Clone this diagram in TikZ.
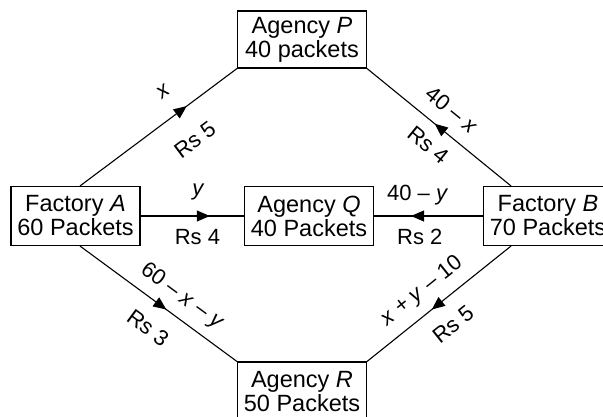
\documentclass[tikz,border=0pt]{standalone}
\usepackage{fontspec}
\setmainfont{Liberation Sans}
\usetikzlibrary{arrows.meta,decorations.markings}

\begin{document}
\begin{tikzpicture}[
    x=1pt, y=-1pt,
    depot/.style={draw, line width=1.1pt, inner sep=0pt, align=center,
        minimum width=129pt, minimum height=59pt,
        font=\fontsize{23.5}{24}\selectfont},
    lbl/.style={sloped, anchor=center, inner sep=0pt,
        font=\fontsize{22}{24}\selectfont},
    flow/.style={line width=1.1pt, postaction={decorate},
        decoration={markings, mark=at position #1 with
            {\arrow{Triangle[length=13pt,width=11pt]}}}},
]
    \useasboundingbox (0,0) rectangle (603,416);

    % Factories and agencies
    \node[depot] (fa) at (75.5,216) {Factory \textit{A}\\60 Packets};
    \node[depot] (fb) at (548,216) {Factory \textit{B}\\70 Packets};
    \node[depot, minimum height=57pt] (ap) at (302,39.5) {Agency \textit{P}\\40 packets};
    \node[depot] (aq) at (309,216) {Agency \textit{Q}\\40 Packets};
    \node[depot] (ar) at (302,391.5) {Agency \textit{R}\\50 Packets};

    % Shipments to P
    \draw[flow=0.68] ([xshift=4.5pt]fa.north) -- (ap.south west)
        node[lbl, pos=0.63, yshift=25.6pt] {\textit{x}}
        node[lbl, pos=0.61, yshift=-32pt] {Rs 5};
    \draw[flow=0.53] ([xshift=-37pt]fb.north) -- (ap.south east)
        node[lbl, pos=0.506, yshift=21.8pt] {40 -- \textit{x}}
        node[lbl, pos=0.486, yshift=-20.5pt] {Rs 4};

    % Shipments to Q
    \draw[flow=0.67] (fa.east) -- (aq.west)
        node[lbl, pos=0.56, yshift=24pt] {\textit{y}}
        node[lbl, pos=0.55, yshift=-21pt] {Rs 4};
    \draw[flow=0.66] (fb.west) -- (aq.east)
        node[lbl, pos=0.6, yshift=21pt] {40 -- \textit{y}}
        node[lbl, pos=0.58, yshift=-21pt] {Rs 2};

    % Shipments to R
    \draw[flow=0.55] ([xshift=4.5pt]fa.south) -- (ar.north west)
        node[lbl, pos=0.575, yshift=19.6pt] {60 -- \textit{x} -- \textit{y}}
        node[lbl, pos=0.53, yshift=-25.5pt] {Rs 3};
    \draw[flow=0.55] ([xshift=-37pt]fb.south) -- (ar.north east)
        node[lbl, pos=0.53, yshift=20.4pt] {\textit{x} + \textit{y} -- 10}
        node[lbl, pos=0.51, yshift=-24.7pt] {Rs 5};
\end{tikzpicture}
\end{document}
